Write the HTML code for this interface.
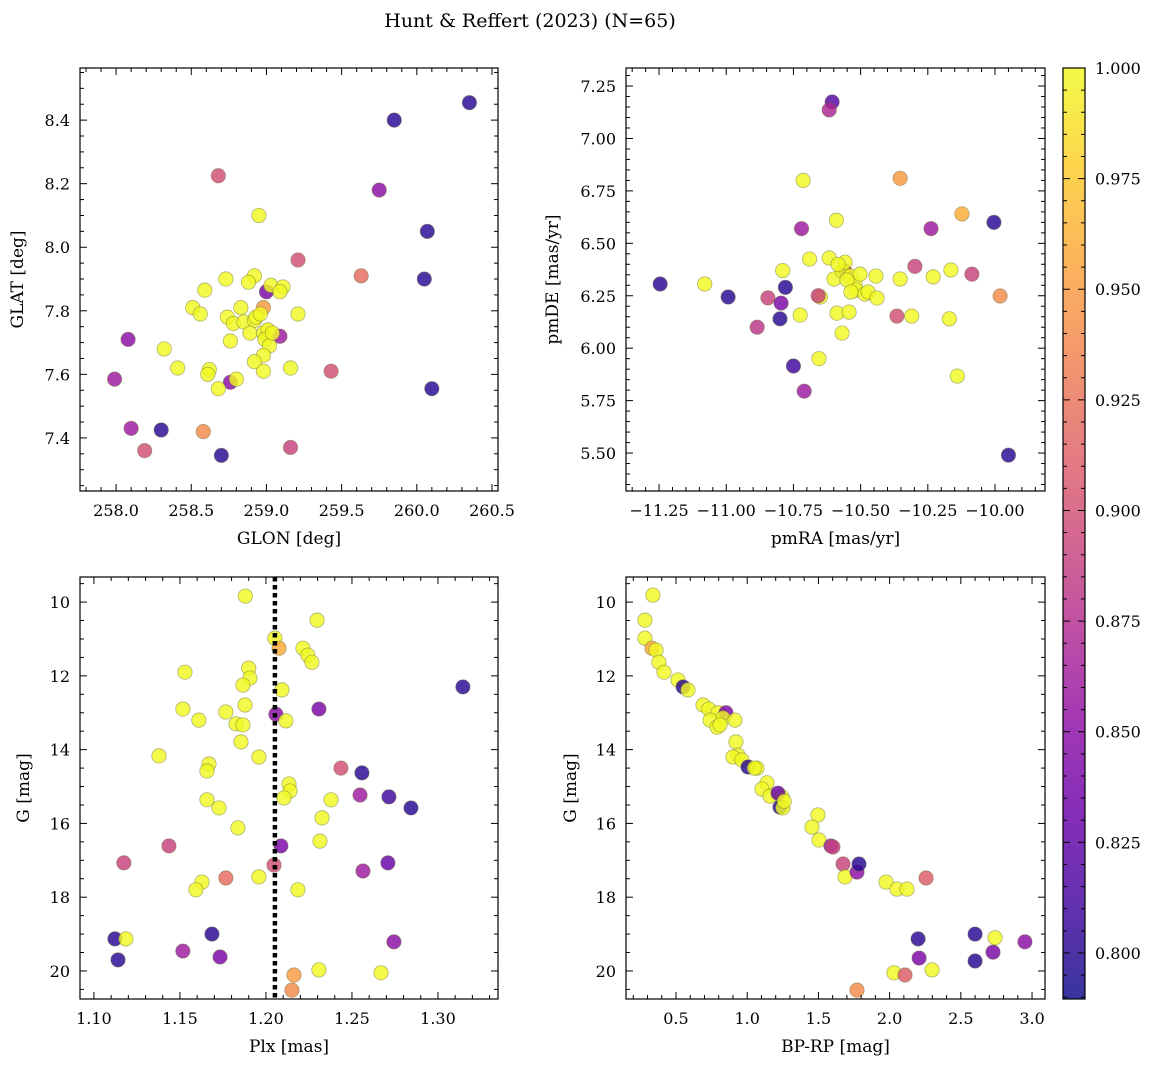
<!DOCTYPE html>
<html><head><meta charset="utf-8"><style>
body{margin:0;background:#fff;}
svg text{font-family:"DejaVu Serif","Liberation Serif",serif;fill:#000;}
</style></head><body>
<svg id="c" width="1160" height="1067" viewBox="0 0 1160 1067" xmlns="http://www.w3.org/2000/svg">
<text x="530" y="27" font-size="19" text-anchor="middle">Hunt &amp; Reffert (2023) (N=65)</text>
</svg>
<script>
// Panel 1: GLON / GLAT
const p1x=[259.85,260.35,260.07,260.05,260.10,258.30,258.70,259.00,259.75,258.08,258.10,257.99,259.09,258.76,258.68,259.21,259.63,259.43,259.16,258.19,258.58,258.98,258.95,258.73,258.92,258.88,259.03,259.11,259.09,258.51,258.59,258.56,258.74,258.83,258.78,258.85,258.92,258.93,258.96,258.89,258.98,259.01,258.99,259.02,258.98,258.92,259.04,259.21,258.32,258.76,258.41,258.62,258.61,258.68,258.80,258.98,259.16];
const p1y=[8.40,8.455,8.05,7.90,7.555,7.425,7.345,7.86,8.18,7.71,7.43,7.585,7.72,7.575,8.225,7.96,7.91,7.61,7.37,7.36,7.42,7.81,8.10,7.90,7.91,7.89,7.88,7.875,7.86,7.81,7.865,7.79,7.78,7.81,7.76,7.765,7.77,7.78,7.79,7.73,7.73,7.74,7.71,7.69,7.66,7.64,7.73,7.79,7.68,7.705,7.62,7.615,7.60,7.555,7.585,7.61,7.62];
const p1c=[0.80,0.80,0.80,0.80,0.80,0.80,0.80,0.84,0.85,0.85,0.86,0.86,0.86,0.85,0.90,0.90,0.92,0.90,0.89,0.90,0.94,0.95,1,1,1,1,1,1,1,1,1,1,1,1,1,1,1,1,1,1,1,1,1,1,1,1,1,1,1,1,1,1,1,1,1,1,1];
// Panel 2: pmRA / pmDE
const p2x=[-10.606,-10.617,-10.714,-10.353,-10.123,-10.004,-10.72,-10.238,-10.59,-11.246,-11.08,-10.993,-10.845,-10.78,-10.796,-10.80,-10.885,-10.79,-10.69,-10.725,-10.65,-10.658,-10.75,-10.655,-10.71,-10.56,-10.617,-10.599,-10.569,-10.558,-10.539,-10.521,-10.584,-10.551,-10.502,-10.517,-10.484,-10.536,-10.588,-10.543,-10.569,-10.472,-10.439,-10.443,-10.353,-10.298,-10.365,-10.31,-10.23,-10.17,-10.164,-10.14,-10.086,-9.981,-9.95];
const p2y=[7.174,7.136,6.80,6.81,6.64,6.60,6.57,6.57,6.61,6.306,6.306,6.244,6.24,6.29,6.215,6.14,6.10,6.37,6.425,6.158,6.244,6.25,5.915,5.95,5.795,6.37,6.43,6.33,6.368,6.41,6.344,6.306,6.40,6.325,6.353,6.277,6.258,6.268,6.167,6.172,6.072,6.268,6.239,6.344,6.33,6.39,6.153,6.153,6.34,6.14,6.373,5.867,6.353,6.249,5.49];
const p2c=[0.82,0.87,1,0.95,0.96,0.80,0.86,0.86,1,0.80,1,0.80,0.89,0.80,0.84,0.80,0.88,1,1,1,1,0.89,0.81,1,0.86,0.88,1,1,1,1,1,1,1,1,1,1,1,1,1,1,1,1,1,1,1,0.89,0.90,1,1,1,1,1,0.89,0.94,0.80];
// Panel 3: Plx / G
const p3x=[1.188,1.2297,1.2052,1.2076,1.2215,1.2244,1.2267,1.1529,1.19,1.1907,1.1866,1.2093,1.3145,1.1517,1.2308,1.1878,1.1767,1.161,1.2058,1.2116,1.1826,1.1866,1.1855,1.1378,1.1959,1.1669,1.1657,1.2436,1.2558,1.2134,1.214,1.2547,1.2715,1.1657,1.2378,1.2105,1.2843,1.1727,1.2326,1.1837,1.2314,1.1436,1.2087,1.1174,1.2047,1.2709,1.2564,1.1628,1.1767,1.1959,1.1593,1.2186,1.1122,1.1186,1.1686,1.2744,1.1517,1.114,1.1733,1.2308,1.2669,1.2163,1.2151];
const p3y=[9.84,10.49,10.98,11.25,11.25,11.44,11.63,11.9,11.79,12.06,12.25,12.38,12.30,12.9,12.9,12.79,12.98,13.2,13.04,13.22,13.3,13.33,13.79,14.17,14.2,14.39,14.58,14.5,14.63,14.93,15.12,15.23,15.28,15.36,15.36,15.31,15.58,15.58,15.85,16.12,16.48,16.61,16.61,17.07,17.13,17.07,17.29,17.59,17.48,17.45,17.8,17.8,19.13,19.13,19.0,19.21,19.46,19.70,19.62,19.97,20.05,20.11,20.52];
const p3c=[1,1,1,0.96,1,1,1,1,1,1,1,1,0.80,1,0.84,1,1,1,0.85,1,1,1,1,1,1,1,1,0.90,0.80,1,1,0.86,0.81,1,1,1,0.80,1,1,1,1,0.89,0.84,0.89,0.90,0.83,0.86,1,0.92,1,1,1,0.80,1,0.80,0.85,0.86,0.80,0.84,1,1,0.95,0.94];
// Panel 4: BP-RP / G
const p4x=[0.338,0.282,0.282,0.331,0.36,0.38,0.416,0.514,0.55,0.584,0.69,0.73,0.795,0.851,0.83,0.739,0.788,0.809,0.914,0.921,0.935,0.9,0.963,1.006,1.069,1.05,1.139,1.104,1.16,1.244,1.216,1.23,1.25,1.26,1.497,1.455,1.504,1.588,1.602,1.673,1.687,1.771,1.785,1.975,2.052,2.122,2.256,2.2,2.6,2.74,2.95,2.207,2.726,2.6,2.03,2.108,2.298,1.771];
const p4y=[9.81,10.49,10.98,11.25,11.3,11.63,11.9,12.11,12.3,12.38,12.79,12.9,13.0,13.0,13.14,13.2,13.39,13.33,13.2,13.79,14.15,14.2,14.28,14.47,14.5,14.5,14.9,15.07,15.26,15.28,15.18,15.56,15.58,15.4,15.77,16.1,16.45,16.61,16.64,17.1,17.45,17.32,17.1,17.59,17.78,17.78,17.48,19.13,19.0,19.1,19.21,19.65,19.49,19.73,20.05,20.11,19.97,20.52];
const p4c=[1,1,1,0.96,1,1,1,1,0.80,1,1,1,1,0.84,1,1,1,1,1,1,1,1,1,0.80,1,1,1,1,1,1,0.83,0.80,1,1,1,1,1,0.86,0.89,0.89,1,0.85,0.80,1,1,1,0.91,0.80,0.80,1,0.85,0.84,0.84,0.80,1,0.91,1,0.94];
const plxLine=1.2052;

const NS='http://www.w3.org/2000/svg';
const svg=document.getElementById('c');
const VMIN=0.7896,VMAX=1.0;
const stops=['#0d0887','#41049d','#6a00a8','#8f0da4','#b12a90','#cc4778','#e16462','#f2844b','#fca636','#fcce25','#f0f921'];
function hx(h){return [parseInt(h.substr(1,2),16),parseInt(h.substr(3,2),16),parseInt(h.substr(5,2),16)];}
function plasma(v){let t=(v-VMIN)/(VMAX-VMIN);t=Math.max(0,Math.min(1,t))*10;let i=Math.min(9,Math.floor(t));let f=t-i;let a=hx(stops[i]),b=hx(stops[i+1]);return 'rgb('+a.map((x,k)=>Math.round(x+(b[k]-x)*f)).join(',')+')';}
function el(tag,attrs,parent){const e=document.createElementNS(NS,tag);for(const k in attrs)e.setAttribute(k,attrs[k]);(parent||svg).appendChild(e);return e;}
function fmt(v,d){return v.toFixed(d).replace('-','\u2212');}

function panel(o){
  const g=el('g',{});
  
  
  const sx=v=>o.x0+(v-o.xmin)/(o.xmax-o.xmin)*(o.x1-o.x0);
  const sy=o.inv?(v=>o.y0+(v-o.ymin)/(o.ymax-o.ymin)*(o.y1-o.y0)):(v=>o.y1-(v-o.ymin)/(o.ymax-o.ymin)*(o.y1-o.y0));
  for(let i=0;i<o.xs.length;i++){
    const c=el('circle',{cx:sx(o.xs[i]),cy:sy(o.ys[i]),r:7.2,fill:plasma(o.cs[i]),'fill-opacity':0.82,stroke:'#6b6b3a','stroke-opacity':0.5,'stroke-width':0.8},g);
    
    
  }
  if(o.vline!==undefined){const l=el('line',{x1:sx(o.vline),x2:sx(o.vline),y1:o.y0,y2:o.y1,stroke:'#000','stroke-width':4.5,'stroke-dasharray':'4.5,3.5'},g);
    
    }
  const fr=el('rect',{x:o.x0,y:o.y0,width:o.x1-o.x0,height:o.y1-o.y0,fill:'none',stroke:'#000','stroke-width':1.2},g);
  
  
  const eps=1e-9;
  for(let v=Math.ceil(o.xmin/o.xmi-eps)*o.xmi;v<=o.xmax+eps;v+=o.xmi){
    const vv=Math.round(v/o.xmi)*o.xmi;const major=Math.abs(vv/o.xma-Math.round(vv/o.xma))<1e-6;const L=major?7:4;const x=sx(vv);
    el('line',{x1:x,x2:x,y1:o.y1,y2:o.y1-L,stroke:'#000','stroke-width':1},g);
    el('line',{x1:x,x2:x,y1:o.y0,y2:o.y0+L,stroke:'#000','stroke-width':1},g);
    if(major){const t=el('text',{x:x,y:o.y1+25,'font-size':16,'text-anchor':'middle'},g);t.textContent=fmt(vv,o.xd);
      
      }
  }
  for(let v=Math.ceil(o.ymin/o.ymi-eps)*o.ymi;v<=o.ymax+eps;v+=o.ymi){
    const vv=Math.round(v/o.ymi)*o.ymi;const major=Math.abs(vv/o.yma-Math.round(vv/o.yma))<1e-6;const L=major?7:4;const y=sy(vv);
    el('line',{x1:o.x0,x2:o.x0+L,y1:y,y2:y,stroke:'#000','stroke-width':1},g);
    el('line',{x1:o.x1,x2:o.x1-L,y1:y,y2:y,stroke:'#000','stroke-width':1},g);
    if(major){const t=el('text',{x:o.x0-10,y:y+6,'font-size':16,'text-anchor':'end'},g);t.textContent=fmt(vv,o.yd);
      
      }
  }
  const xl=el('text',{x:(o.x0+o.x1)/2,y:o.y1+53,'font-size':17,'text-anchor':'middle'},g);xl.textContent=o.xlab;
  
  
  const yx=o.ylx,yy=(o.y0+o.y1)/2;
  const yl=el('text',{x:yx,y:yy,'font-size':17,'text-anchor':'middle',transform:'rotate(-90 '+yx+' '+yy+')'},g);yl.textContent=o.ylab;
  
  
}
panel({name:'glon-glat-panel',xs:p1x,ys:p1y,cs:p1c,x0:80,x1:498,y0:68,y1:491,xmin:257.76,xmax:260.54,ymin:7.233,ymax:8.564,xma:0.5,xmi:0.1,yma:0.2,ymi:0.05,xd:1,yd:1,xlab:'GLON [deg]',ylab:'GLAT [deg]',ylx:23});
panel({name:'pm-panel',xs:p2x,ys:p2y,cs:p2c,x0:626,x1:1045,y0:68,y1:491,xmin:-11.373,xmax:-9.814,ymin:5.319,ymax:7.336,xma:0.25,xmi:0.05,yma:0.25,ymi:0.05,xd:2,yd:2,xlab:'pmRA [mas/yr]',ylab:'pmDE [mas/yr]',ylx:558});
panel({name:'plx-g-panel',xs:p3x,ys:p3y,cs:p3c,inv:true,vline:plxLine,x0:80,x1:498,y0:577,y1:999,xmin:1.0919,xmax:1.3349,ymin:9.32,ymax:20.76,xma:0.05,xmi:0.01,yma:2,ymi:0.5,xd:2,yd:0,xlab:'Plx [mas]',ylab:'G [mag]',ylx:29});
panel({name:'cmd-panel',xs:p4x,ys:p4y,cs:p4c,inv:true,x0:626,x1:1045,y0:577,y1:999,xmin:0.149,xmax:3.091,ymin:9.32,ymax:20.76,xma:0.5,xmi:0.1,yma:2,ymi:0.5,xd:1,yd:0,xlab:'BP-RP [mag]',ylab:'G [mag]',ylx:576});

// colorbar
const cb=el('g',{});


const cx0=1063,cx1=1085,cy0=68,cy1=999;
const cy=v=>cy1-(v-VMIN)/(VMAX-VMIN)*(cy1-cy0);
const defs=el('defs',{});
const grad=el('linearGradient',{id:'cbg',x1:0,y1:1,x2:0,y2:0},defs);
for(let i=0;i<=40;i++){const v=VMIN+(VMAX-VMIN)*i/40;el('stop',{offset:(i/40),'stop-color':plasma(v),'stop-opacity':0.82},grad);}
el('rect',{x:cx0,y:cy0,width:cx1-cx0,height:cy1-cy0,fill:'url(#cbg)'},cb);
el('rect',{x:cx0,y:cy0,width:cx1-cx0,height:cy1-cy0,fill:'none',stroke:'#000','stroke-width':1.2},cb);
for(let k=158;k<=200;k++){const v=k*0.005;if(v<VMIN)continue;const major=k%5===0;const y=cy(v);const L=major?7:4;
  el('line',{x1:cx1,x2:cx1-L,y1:y,y2:y,stroke:'#000','stroke-width':1},cb);
  el('line',{x1:cx0,x2:cx0+L,y1:y,y2:y,stroke:'#000','stroke-width':1},cb);
  if(major){const t=el('text',{x:cx1+10,y:y+6,'font-size':16},cb);t.textContent=v.toFixed(3);
    
    }}
</script>
</body></html>
